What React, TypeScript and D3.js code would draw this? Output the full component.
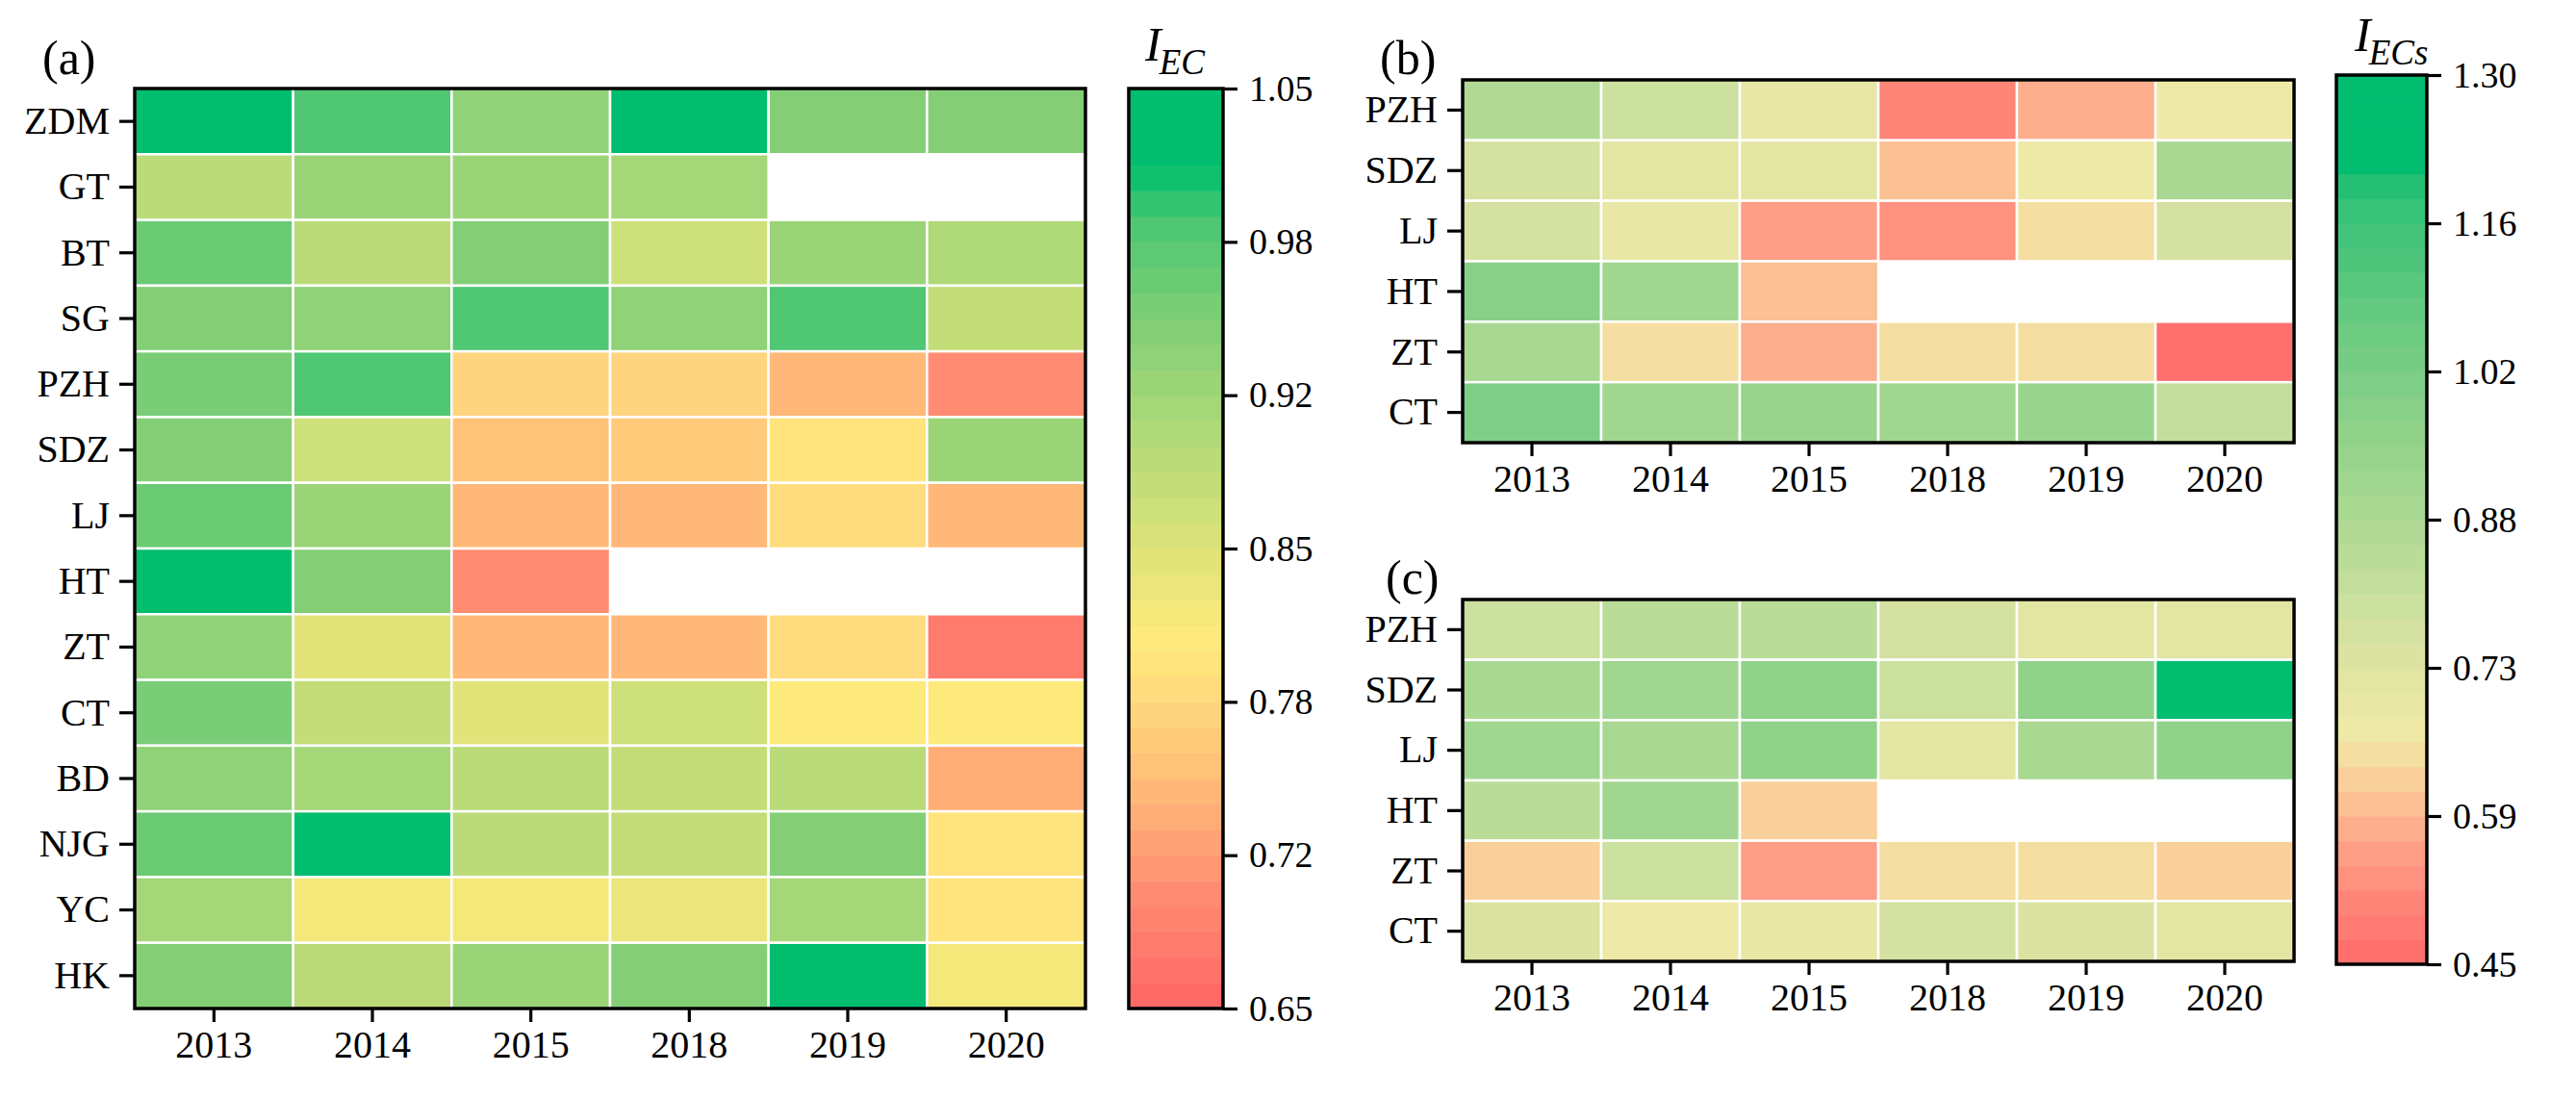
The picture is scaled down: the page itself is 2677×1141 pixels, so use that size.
import { useEffect, useRef } from 'react';
import * as d3 from 'd3';

const years = ['2013', '2014', '2015', '2018', '2019', '2020'];
const sitesA = ['ZDM', 'GT', 'BT', 'SG', 'PZH', 'SDZ', 'LJ', 'HT', 'ZT', 'CT', 'BD', 'NJG', 'YC', 'HK'];
const sitesBC = ['PZH', 'SDZ', 'LJ', 'HT', 'ZT', 'CT'];

// I_EC per site (rows) and year (columns); null = no data
const iecA: (number | null)[][] = [
  [1.04, 0.99, 0.93, 1.04, 0.95, 0.95],
  [0.89, 0.92, 0.92, 0.91, null, null],
  [0.97, 0.89, 0.94, 0.865, 0.92, 0.9],
  [0.94, 0.93, 0.99, 0.93, 0.985, 0.875],
  [0.96, 0.99, 0.775, 0.775, 0.75, 0.7],
  [0.94, 0.865, 0.755, 0.77, 0.8, 0.92],
  [0.97, 0.92, 0.74, 0.74, 0.785, 0.74],
  [1.04, 0.95, 0.7, null, null, null],
  [0.93, 0.845, 0.75, 0.75, 0.785, 0.675],
  [0.96, 0.875, 0.84, 0.865, 0.815, 0.815],
  [0.93, 0.915, 0.89, 0.875, 0.89, 0.73],
  [0.97, 1.04, 0.89, 0.88, 0.95, 0.8],
  [0.915, 0.825, 0.825, 0.835, 0.91, 0.8],
  [0.94, 0.89, 0.92, 0.95, 1.04, 0.825],
];

// I_ECs, panel (b)
const iecsB: (number | null)[][] = [
  [0.86, 0.8, 0.7, 0.515, 0.58, 0.68],
  [0.78, 0.73, 0.73, 0.6, 0.68, 0.88],
  [0.78, 0.7, 0.56, 0.535, 0.645, 0.76],
  [0.98, 0.9, 0.6, null, null, null],
  [0.88, 0.645, 0.575, 0.645, 0.645, 0.46],
  [1.01, 0.9, 0.93, 0.9, 0.93, 0.81],
];

// I_ECs, panel (c)
const iecsC: (number | null)[][] = [
  [0.79, 0.83, 0.83, 0.76, 0.73, 0.72],
  [0.89, 0.91, 0.96, 0.79, 0.96, 1.25],
  [0.91, 0.88, 0.95, 0.73, 0.89, 0.96],
  [0.83, 0.91, 0.62, null, null, null],
  [0.62, 0.79, 0.56, 0.645, 0.645, 0.62],
  [0.74, 0.68, 0.69, 0.78, 0.74, 0.73],
];

const barTicksA = ['0.65', '0.72', '0.78', '0.85', '0.92', '0.98', '1.05'];
const barTicksBC = ['0.45', '0.59', '0.73', '0.88', '1.02', '1.16', '1.30'];

const stopsA = [0.65, 0.7, 0.75, 0.78, 0.81, 0.85, 0.9, 0.95, 0.99, 1.017, 1.05];
const colorsA = ['#ff6666', '#ff8c72', '#ffbe78', '#ffd67e', '#ffea7c', '#dde37a', '#b0d978', '#7fce76', '#4fc773', '#00be6e', '#00be6e'];
const stopsBC = [0.45, 0.52, 0.57, 0.61, 0.645, 0.67, 0.73, 0.8, 0.88, 0.95, 1.02, 1.1, 1.16, 1.2, 1.206, 1.3];
const colorsBC = ['#ff6b6b', '#ff8a7c', '#fea68a', '#fbc596', '#f7dba0', '#efe9a6', '#e1e4a3', '#c9df9e', '#abd893', '#94d38c', '#79cd85', '#5ac77e', '#3ec37a', '#1fbe72', '#00bd70', '#00bd70'];

const LEVELS = 36;
const FONT = '"Liberation Serif", "Times New Roman", serif';

function makeColor(stops: number[], colors: string[]) {
  const lo = stops[0];
  const hi = stops[stops.length - 1];
  const step = (hi - lo) / LEVELS;
  const lin = d3.scaleLinear<string>().domain(stops).range(colors).interpolate(d3.interpolateRgb).clamp(true);
  const fn = (v: number) => {
    const k = Math.max(0, Math.min(LEVELS - 1, Math.floor((v - lo) / step)));
    return lin(lo + (k + 0.5) * step);
  };
  return { fn, lo, hi, step };
}

function drawHeatmap(svg: any, rows: string[], values: (number | null)[][], box: { x: number; y: number; w: number; h: number }, color: (v: number) => string, tag: string, tagPos: [number, number]) {
  const g = svg.append('g').attr('transform', `translate(${box.x},${box.y})`);
  const x = d3.scaleBand().domain(years).range([0, box.w]);
  const y = d3.scaleBand().domain(rows).range([0, box.h]);

  rows.forEach((r, i) => {
    years.forEach((yr, j) => {
      const v = values[i][j];
      if (v == null) return;
      g.append('rect')
        .attr('x', x(yr))
        .attr('y', y(r))
        .attr('width', x.bandwidth())
        .attr('height', y.bandwidth())
        .attr('fill', color(v))
        .attr('stroke', '#fff')
        .attr('stroke-width', 2.5);
    });
  });

  g.append('rect')
    .attr('width', box.w)
    .attr('height', box.h)
    .attr('fill', 'none')
    .attr('stroke', '#000')
    .attr('stroke-width', 3.5);

  const ax = g.append('g').attr('transform', `translate(0,${box.h})`)
    .call(d3.axisBottom(x).tickSize(14).tickPadding(9));
  const ay = g.append('g').call(d3.axisLeft(y).tickSize(16).tickPadding(10));
  [ax, ay].forEach(a => {
    a.select('.domain').remove();
    a.attr('font-family', FONT).attr('font-size', 40);
    a.selectAll('line').attr('stroke-width', 3.2);
    a.selectAll('text').attr('fill', '#000');
  });

  svg.append('text')
    .attr('x', tagPos[0])
    .attr('y', tagPos[1])
    .attr('font-family', FONT)
    .attr('font-size', 50)
    .text(tag);
}

function drawColorBar(svg: any, cm: ReturnType<typeof makeColor>, labels: string[], box: { x: number; y: number; w: number; h: number }, sub: string, titlePos: [number, number]) {
  const g = svg.append('g').attr('transform', `translate(${box.x},${box.y})`);
  const s = d3.scaleLinear().domain([cm.lo, cm.hi]).range([box.h, 0]);
  d3.range(LEVELS).forEach(k => {
    const v0 = cm.lo + k * cm.step;
    g.append('rect')
      .attr('x', 0)
      .attr('y', s(v0 + cm.step))
      .attr('width', box.w)
      .attr('height', s(v0) - s(v0 + cm.step) + 0.6)
      .attr('fill', cm.fn(v0 + cm.step / 2));
  });
  g.append('rect')
    .attr('width', box.w)
    .attr('height', box.h)
    .attr('fill', 'none')
    .attr('stroke', '#000')
    .attr('stroke-width', 3.5);

  const n = labels.length;
  const tickVals = labels.map((_, i) => cm.lo + (i * (cm.hi - cm.lo)) / (n - 1));
  const ar = g.append('g').attr('transform', `translate(${box.w},0)`)
    .call(d3.axisRight(s).tickValues(tickVals).tickSize(15).tickPadding(12).tickFormat((_, i) => labels[i]));
  ar.select('.domain').remove();
  ar.attr('font-family', FONT).attr('font-size', 38);
  ar.selectAll('line').attr('stroke-width', 3.2);
  ar.selectAll('text').attr('fill', '#000');

  const t = svg.append('text')
    .attr('x', titlePos[0])
    .attr('y', titlePos[1])
    .attr('font-family', FONT)
    .attr('font-style', 'italic')
    .attr('font-size', 50);
  t.append('tspan').text('I');
  t.append('tspan').attr('font-size', 37).attr('dy', 14).attr('dx', -2).text(sub);
}

export default function App() {
  const svgRef = useRef<SVGSVGElement>(null);

  useEffect(() => {
    if (!svgRef.current) return;
    const svg = d3.select(svgRef.current);
    svg.selectAll('*').remove();

    const cmA = makeColor(stopsA, colorsA);
    const cmBC = makeColor(stopsBC, colorsBC);

    drawHeatmap(svg, sitesA, iecA, { x: 140, y: 92, w: 988, h: 956 }, cmA.fn, '(a)', [44, 77]);
    drawHeatmap(svg, sitesBC, iecsB, { x: 1520, y: 83, w: 864, h: 377 }, cmBC.fn, '(b)', [1434, 77]);
    drawHeatmap(svg, sitesBC, iecsC, { x: 1520, y: 623, w: 864, h: 376 }, cmBC.fn, '(c)', [1440, 617]);

    drawColorBar(svg, cmA, barTicksA, { x: 1173, y: 92, w: 98, h: 956 }, 'EC', [1190, 63]);
    drawColorBar(svg, cmBC, barTicksBC, { x: 2428, y: 78, w: 94, h: 924 }, 'ECs', [2447, 53]);
  }, []);

  return (
    <svg
      ref={svgRef}
      width={2677}
      height={1141}
      style={{ position: 'absolute', left: 0, top: 0, background: '#fff' }}
    />
  );
}
